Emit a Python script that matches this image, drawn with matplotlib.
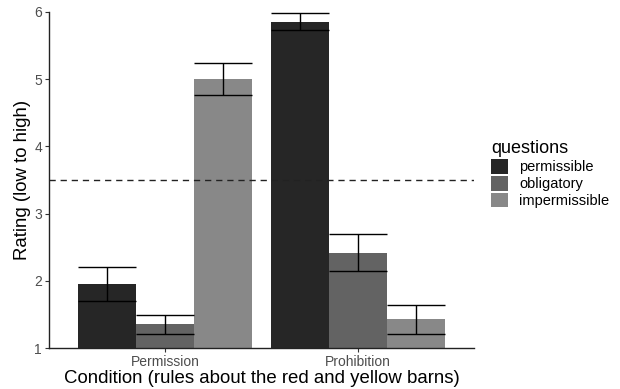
import matplotlib
matplotlib.use("Agg")
import matplotlib.pyplot as plt
import numpy as np

plt.rcParams['font.family'] = ['Liberation Sans', 'DejaVu Sans']

conditions = ["Permission", "Prohibition"]
questions = ["permissible", "obligatory", "impermissible"]
means = {
    "permissible":   [1.95, 5.855],
    "obligatory":    [1.35, 2.42],
    "impermissible": [5.00, 1.43],
}
ses = {
    "permissible":   [0.25, 0.125],
    "obligatory":    [0.14, 0.275],
    "impermissible": [0.24, 0.215],
}
colors = ["#262626", "#636363", "#888888"]
midpoint = 3.5

fig = plt.figure(figsize=(6.2, 3.89), dpi=100)
ax = fig.add_axes([49/620, 1-348/389, (474-49)/620, (348-12)/389])

x = np.arange(1, len(conditions)+1)
w = 0.3
for i, q in enumerate(questions):
    xi = x + (i-1)*w
    ax.bar(xi, means[q], width=w, color=colors[i], label=q, zorder=2)
    m = np.array(means[q]); s = np.array(ses[q])
    ax.errorbar(xi, m, yerr=s, fmt='none', ecolor='black', elinewidth=1.0,
                capsize=20.8, capthick=1.0, zorder=3)

ax.axhline(midpoint, color='#222222', lw=1.0, ls=(0, (4.5, 3.5)), zorder=4)

ax.set_xlim(0.4, 2.6)
ax.set_ylim(1, 6)
ax.set_xticks(x)
ax.set_xticklabels(conditions)
ax.set_yticks([1, 2, 3, 4, 5, 6])
for s in ['top', 'right']:
    ax.spines[s].set_visible(False)
for s in ['left', 'bottom']:
    ax.spines[s].set_color('#222222')
    ax.spines[s].set_linewidth(1.0)
ax.tick_params(axis='both', colors='#333333', labelcolor='#4d4d4d', labelsize=10,
               length=3, width=0.8, pad=2)
ax.set_xlabel("Condition (rules about the red and yellow barns)", fontsize=13.4, labelpad=1)
ax.set_ylabel("Rating (low to high)", fontsize=13.4, labelpad=2)

leg = ax.legend(title="questions", loc='upper left', bbox_to_anchor=(487/620, 1-136/389),
                bbox_transform=fig.transFigure, frameon=False, fontsize=10.5,
                title_fontsize=13, handlelength=1.15, handleheight=1.15,
                labelspacing=0.12, handletextpad=0.75, borderaxespad=0, borderpad=0.3)
leg._legend_box.align = "left"

fig.savefig("out.png", dpi=100)
